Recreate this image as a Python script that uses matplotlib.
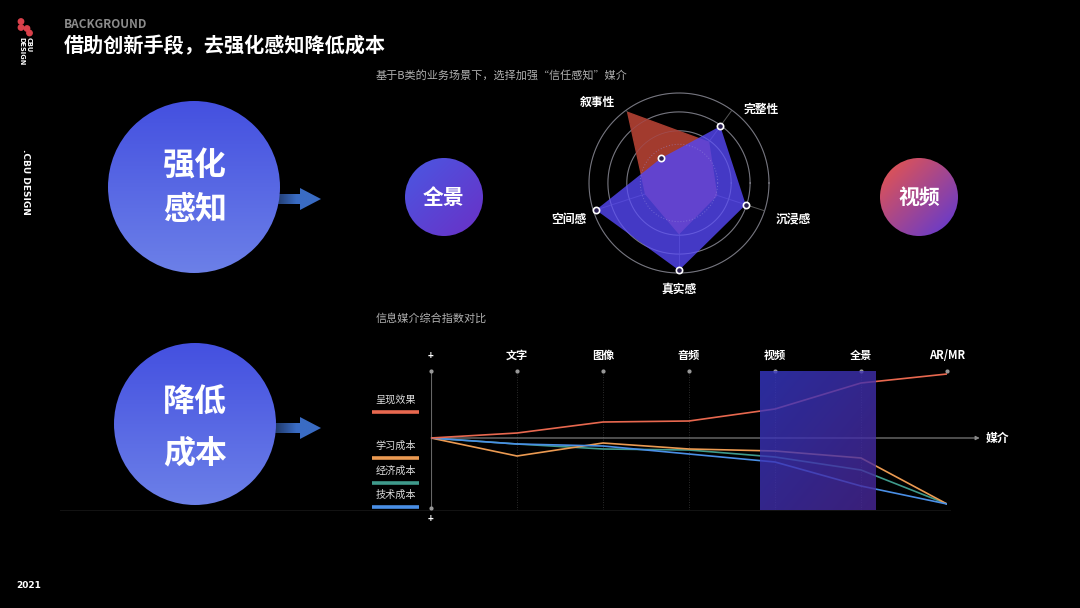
import numpy as np
import matplotlib
matplotlib.use('Agg')
import matplotlib.pyplot as plt
from matplotlib.colors import to_rgb
from matplotlib.patches import Circle, Polygon

plt.rcParams['font.family'] = ['Noto Sans CJK SC', 'DejaVu Sans']

# radar data (0-100, outer ring = 100)
radar_axes = ['叙事性', '完整性', '沉浸感', '真实感', '空间感']
radar_angles = [126, 54, -18, -90, 198]
radar_red = [97, 56, 44, 56, 39]
radar_blue = [34, 78, 78, 97, 97]

# line chart data (origin + six media)
media = ['文字', '图像', '音频', '视频', '全景', 'AR/MR']
series_names = ['呈现效果', '学习成本', '经济成本', '技术成本']
present = [0, 5, 16, 17, 29, 55, 64]
learn = [0, -18, -5, -11, -13, -20, -66]
econ = [0, -6, -11, -12, -19, -32, -66]
tech = [0, -6, -8, -16, -24, -48, -66]
series_colors = ['#e8684f', '#eb9a52', '#3f9a8c', '#4a8fe6']


def grad(c1, c2, mode='v', n=200):
    x = np.linspace(0, 1, n)
    X, Y = np.meshgrid(x, x)
    if mode == 'v':
        t = Y
    elif mode == 'd':
        t = (X + Y) / 2
    else:
        t = np.clip(X * 1.7, 0, 1)
    a = np.array(to_rgb(c1))
    b = np.array(to_rgb(c2))
    return a * (1 - t)[..., None] + b * t[..., None]


def grad_circle(ax, cx, cy, r, c1, c2, mode):
    im = ax.imshow(grad(c1, c2, mode), extent=(cx - r, cx + r, cy + r, cy - r),
                   origin='upper', aspect='auto', zorder=3, interpolation='bilinear')
    clip = Circle((cx, cy), r, transform=ax.transData, fc='none', ec='none')
    ax.add_patch(clip)
    im.set_clip_path(clip)


def arrow(ax, x0, xh, tip, cy):
    verts = [(x0, cy - 5), (xh, cy - 5), (xh, cy - 11), (tip, cy),
             (xh, cy + 11), (xh, cy + 5), (x0, cy + 5)]
    im = ax.imshow(grad('#10182e', '#3a6cc4', 'h'), extent=(x0, tip, cy + 11, cy - 11),
                   origin='upper', aspect='auto', zorder=2)
    p = Polygon(verts, closed=True, transform=ax.transData, fc='none', ec='none')
    ax.add_patch(p)
    im.set_clip_path(p)


fig = plt.figure(figsize=(10.8, 6.08), dpi=100, facecolor='black')
ax0 = fig.add_axes([0, 0, 1, 1])
ax0.set_facecolor('black')

# header / logo
for (x, y) in [(21, 21.5), (21, 27.5), (27, 28.5), (29.5, 33)]:
    ax0.add_patch(Circle((x, y), 2.7, color='#d9404a', zorder=3))
ax0.text(29, 37, 'CBU', rotation=-90, color='white', fontsize=4.8,
         fontweight='bold', ha='center', va='top', family='DejaVu Sans')
ax0.text(21.5, 37, 'DESIGN', rotation=-90, color='white', fontsize=4.8,
         fontweight='bold', ha='center', va='top', family='DejaVu Sans')
ax0.text(64, 24, 'BACKGROUND', color='#8c8c8c', fontsize=8.5, fontweight='bold',
         ha='left', va='center')
ax0.text(64, 46, '借助创新手段，去强化感知降低成本', color='white', fontsize=14.5,
         fontweight='bold', ha='left', va='center')
ax0.text(25, 182, '.CBU DESIGN', rotation=-90, color='white', fontsize=6.5,
         fontweight='bold', ha='center', va='center', family='DejaVu Sans')
ax0.text(29, 585, '2021', color='white', fontsize=6.5, fontweight='bold',
         ha='center', va='center', family='DejaVu Sans')

# big circles with arrows
arrow(ax0, 262, 300, 321, 199)
arrow(ax0, 262, 300, 321, 428)
grad_circle(ax0, 194, 187, 86, '#4450e0', '#6c80e8', 'v')
grad_circle(ax0, 195, 424, 81, '#4450e0', '#6c80e8', 'v')
for txt, y in [('强化', 166), ('感知', 210), ('降低', 403), ('成本', 453)]:
    ax0.text(195, y, txt, color='white', fontsize=23, fontweight='bold',
             ha='center', va='center', zorder=5)

# small bubbles
grad_circle(ax0, 444, 197, 39, '#4a58e2', '#6a30c6', 'd')
grad_circle(ax0, 919, 197, 39, '#ee5646', '#5a38d8', 'd')
ax0.text(444, 197, '全景', color='white', fontsize=15, fontweight='bold',
         ha='center', va='center', zorder=5)
ax0.text(919, 197, '视频', color='white', fontsize=15, fontweight='bold',
         ha='center', va='center', zorder=5)

# sub titles
ax0.text(376, 75, '基于B类的业务场景下，选择加强“信任感知”媒介', color='#b0b0b0',
         fontsize=8, ha='left', va='center')
ax0.text(376, 318, '信息媒介综合指数对比', color='#b0b0b0', fontsize=8,
         ha='left', va='center')

# radar labels
label_pos = [(597, 102), (761, 109), (793, 219), (679, 289), (569, 219)]
for name, (x, y) in zip(radar_axes, label_pos):
    ax0.text(x, y, name, color='white', fontsize=8.5, fontweight='bold',
             ha='center', va='center')

# line legend
legend_y = [400, 446, 471, 495]
for name, c, y in zip(series_names, series_colors, legend_y):
    ax0.text(396, y, name, color='#dddddd', fontsize=7.3, ha='center', va='center')
    ax0.plot([372, 419], [y + 12, y + 12], color=c, lw=2.6, solid_capstyle='butt')
ax0.plot([60, 950], [510, 510], color='#121212', lw=0.8)

ax0.set_xlim(0, 1080)
ax0.set_ylim(608, 0)
ax0.axis('off')

# radar chart
axr = fig.add_axes([589 / 1080, (608 - 273) / 608, 180 / 1080, 180 / 608], projection='polar')
axr.set_facecolor('none')
axr.set_ylim(0, 100)
axr.axis('off')
th = np.deg2rad(radar_angles)
th_c = np.append(th, th[0])
ring = np.linspace(0, 2 * np.pi, 300)
for rr in [100, 79, 58]:
    axr.plot(ring, [rr] * len(ring), color='#6e6e6e', lw=0.8, clip_on=False, zorder=1)
for t in th:
    axr.plot([t, t], [0, 100], color='#555555', lw=0.7, zorder=1)
axr.fill(th_c, radar_red + radar_red[:1], color='#a23b2e', zorder=2)
axr.fill(th_c, radar_blue + radar_blue[:1], color='#5446f2', alpha=0.82, zorder=3, lw=0)
axr.plot(ring, [43] * len(ring), color='#9a90e0', lw=0.7, ls=(0, (1, 2)), alpha=0.5, zorder=4)
for rr in [100, 79, 58]:
    axr.plot(ring, [rr] * len(ring), color='#9a9ae0', lw=0.6, alpha=0.18, clip_on=False, zorder=4)
axr.plot(th, radar_blue, 'o', ms=4.5, mfc='#2a2050', mec='white', mew=1.2,
         ls='none', zorder=6, clip_on=False)

# line chart
axl = fig.add_axes([431 / 1080, (608 - 510) / 608, 516 / 1080, 139 / 608])
axl.set_facecolor('none')
xs = list(range(7))
axl.vlines(xs[1:], -72, 67, colors='#3a3a3a', linestyles=(0, (1, 2)), lw=0.6)
axl.plot([0, 0], [-70, 67], color='#666666', lw=0.8)
axl.plot(xs, [67] * 7, 'o', ms=2, color='#999999', clip_on=False)
axl.plot([0], [-70], 'o', ms=2, color='#999999', clip_on=False)
axl.annotate('', xy=(6.38, 0), xytext=(0, 0), annotation_clip=False,
             arrowprops=dict(arrowstyle='-|>', color='#8a8a8a', lw=0.8,
                             mutation_scale=6, shrinkA=0, shrinkB=0))
for vals, c, z in zip([present, learn, econ, tech], series_colors, [4, 3, 2, 3]):
    axl.plot(xs, vals, color=c, lw=1.2, zorder=z)
axl.imshow(grad('#3638c6', '#4a2898', 'd'), extent=(3.83, 5.17, -72, 67),
           origin='upper', aspect='auto', alpha=0.8, zorder=5)
axl.text(0, 82, '+', color='white', fontsize=7, fontweight='bold', ha='center',
         va='center', clip_on=False)
axl.text(0, -81, '+', color='white', fontsize=7, fontweight='bold', ha='center',
         va='center', clip_on=False)
axl.text(6.59, 0, '媒介', color='white', fontsize=8.5, fontweight='bold',
         ha='center', va='center', clip_on=False)
axl.xaxis.tick_top()
axl.set_xticks(range(1, 7))
axl.set_xticklabels(media, fontsize=8, fontweight='bold', color='white')
axl.tick_params(axis='x', length=0, pad=6.5)
axl.set_yticks([])
for s in axl.spines.values():
    s.set_visible(False)
axl.set_xlim(0, 6)
axl.set_ylim(-72, 67)

fig.savefig('out.png', dpi=100, facecolor='black')
